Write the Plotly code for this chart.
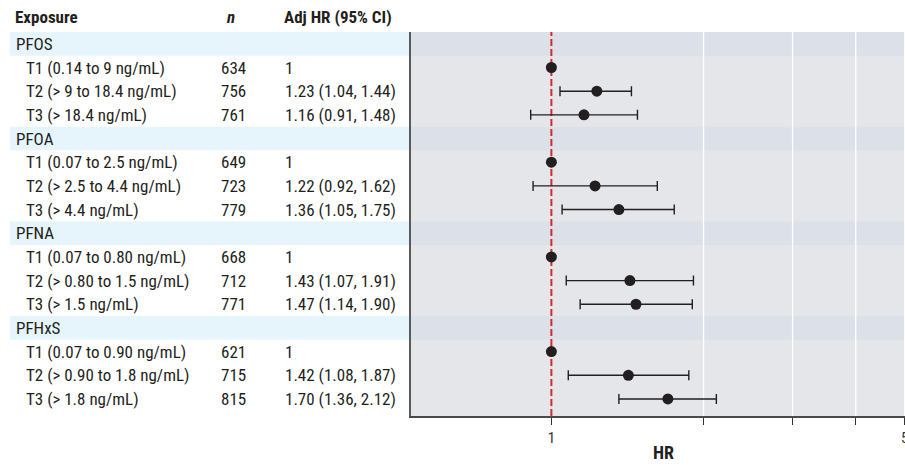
import plotly.graph_objects as go

# ---- data ----
groups = ["PFOS", "PFOA", "PFNA", "PFHxS"]
tier_labels = [
    ["T1 (0.14 to 9 ng/mL)", "T2 (> 9 to 18.4 ng/mL)", "T3 (> 18.4 ng/mL)"],
    ["T1 (0.07 to 2.5 ng/mL)", "T2 (> 2.5 to 4.4 ng/mL)", "T3 (> 4.4 ng/mL)"],
    ["T1 (0.07 to 0.80 ng/mL)", "T2 (> 0.80 to 1.5 ng/mL)", "T3 (> 1.5 ng/mL)"],
    ["T1 (0.07 to 0.90 ng/mL)", "T2 (> 0.90 to 1.8 ng/mL)", "T3 (> 1.8 ng/mL)"],
]
n_values = [[634, 756, 761], [649, 723, 779], [668, 712, 771], [621, 715, 815]]
hr_values = [[1, 1.23, 1.16], [1, 1.22, 1.36], [1, 1.43, 1.47], [1, 1.42, 1.70]]
ci_low = [[None, 1.04, 0.91], [None, 0.92, 1.05], [None, 1.07, 1.14], [None, 1.08, 1.36]]
ci_high = [[None, 1.44, 1.48], [None, 1.62, 1.75], [None, 1.91, 1.90], [None, 1.87, 2.12]]
col_headers = ["Exposure", "n", "Adj HR (95% CI)"]
tick_vals = [1, 2, 3, 4, 5]
tick_text = ["1", "", "", "", "5"]
grid_vals = [2, 3, 4, 5]

# ---- layout constants ----
W, H = 905, 467
ML, MR, MT, MB = 0, 0, 32, 51
PLOT_X0 = 411
FONT = "Liberation Sans Narrow, Roboto Condensed, Arial Narrow, sans-serif"
TXT = "#231f20"
FS = 17

def px(x):
    return x / W

fig = go.Figure()

ys, xs, eplus, eminus = [], [], [], []
annotations = []
shapes = []

for g, grp in enumerate(groups):
    yh = g * 4
    shapes.append(dict(type="rect", xref="paper", yref="y", x0=px(10), x1=px(PLOT_X0),
                       y0=yh - 0.5, y1=yh + 0.5, fillcolor="#e6f5fc", line_width=0, layer="below"))
    shapes.append(dict(type="rect", xref="paper", yref="y", x0=px(PLOT_X0), x1=1,
                       y0=yh - 0.5, y1=yh + 0.5, fillcolor="#dce0e8", line_width=0, layer="below"))
    annotations.append(dict(text=grp, xref="paper", yref="y", x=px(14), y=yh, xanchor="left",
                            yanchor="middle", showarrow=False, font=dict(size=FS, color=TXT)))
    for k in range(3):
        yr = yh + k + 1
        hr = hr_values[g][k]
        lo = ci_low[g][k]
        hi = ci_high[g][k]
        ys.append(yr)
        xs.append(hr)
        eplus.append(None if hi is None else hi - hr)
        eminus.append(None if lo is None else hr - lo)
        annotations.append(dict(text=tier_labels[g][k], xref="paper", yref="y", x=px(24), y=yr,
                                xanchor="left", yanchor="middle", showarrow=False,
                                font=dict(size=FS, color=TXT)))
        annotations.append(dict(text=str(n_values[g][k]), xref="paper", yref="y", x=px(234), y=yr,
                                xanchor="center", yanchor="middle", showarrow=False,
                                font=dict(size=FS, color=TXT)))
        hr_txt = "1" if lo is None else f"{hr:.2f} ({lo:.2f}, {hi:.2f})"
        annotations.append(dict(text=hr_txt, xref="paper", yref="y", x=px(283), y=yr,
                                xanchor="left", yanchor="middle", showarrow=False,
                                font=dict(size=FS, color=TXT)))

header_y = 1 + (MT - 17) / (H - MT - MB)
annotations.append(dict(text="<b>" + col_headers[0] + "</b>", xref="paper", yref="paper", x=px(13),
                        y=header_y, xanchor="left", yanchor="middle", showarrow=False,
                        font=dict(size=FS, color=TXT)))
annotations.append(dict(text="<b><i>" + col_headers[1] + "</i></b>", xref="paper", yref="paper",
                        x=px(230), y=header_y, xanchor="center", yanchor="middle", showarrow=False,
                        font=dict(size=FS, color=TXT)))
annotations.append(dict(text="<b>" + col_headers[2] + "</b>", xref="paper", yref="paper", x=px(282),
                        y=header_y, xanchor="left", yanchor="middle", showarrow=False,
                        font=dict(size=FS, color=TXT)))

# x-axis title
annotations.append(dict(text="<b>HR</b>", xref="paper", yref="paper", x=px(663),
                        y=-(452 - (H - MB)) / (H - MT - MB), xanchor="center", yanchor="middle",
                        showarrow=False, font=dict(size=18, color=TXT)))

# vertical white grid lines
for gv in grid_vals:
    shapes.append(dict(type="line", xref="x", yref="paper", x0=gv, x1=gv, y0=0, y1=1,
                       line=dict(color="white", width=1.3), layer="below"))

# reference line at HR = 1
shapes.append(dict(type="line", xref="x", yref="paper", x0=1, x1=1, y0=0, y1=1,
                   line=dict(color="#d42a2f", width=2, dash="7px,3px"), layer="below"))

fig.add_trace(go.Scatter(
    x=xs, y=ys, mode="markers",
    marker=dict(size=11, color=TXT),
    error_x=dict(type="data", symmetric=False, array=eplus, arrayminus=eminus,
                 color=TXT, thickness=1.4, width=5),
    showlegend=False, hoverinfo="skip",
))

fig.update_layout(
    width=W, height=H,
    margin=dict(l=ML, r=MR, t=MT, b=MB, pad=0),
    paper_bgcolor="white",
    plot_bgcolor="#e5e6e9",
    font=dict(family=FONT, color=TXT),
    shapes=shapes,
    annotations=annotations,
    xaxis=dict(
        type="log", domain=[PLOT_X0 / W, 1],
        range=[-0.2777, 0.6995],
        tickvals=tick_vals, ticktext=tick_text,
        ticks="outside", ticklen=7, tickcolor="#333", tickwidth=1.3,
        showgrid=False,
        showline=True, linecolor="#4a4a4a", linewidth=2,
        zeroline=False, automargin=False, ticklabeloverflow="allow",
        tickfont=dict(size=15, color="#333"),
    ),
    yaxis=dict(
        range=[15.72, -0.5], automargin=False,
        showticklabels=False, ticks="", showgrid=False, zeroline=False,
        showline=True, linecolor="#5a5a5a", linewidth=2,
    ),
)

fig.write_html("out.html", config={"displayModeBar": False},
               post_script="document.body.style.margin='0px';")
